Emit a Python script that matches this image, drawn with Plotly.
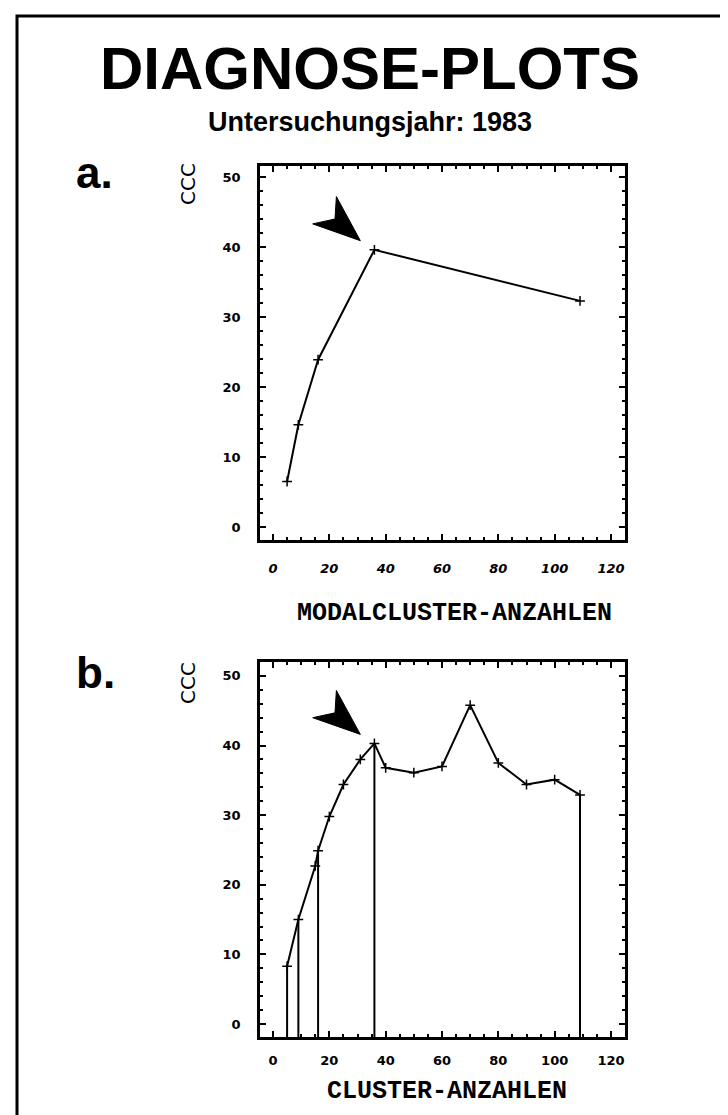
import plotly.graph_objects as go

# ---------------- data ----------------
# Panel a: modal cluster counts vs CCC
modal_x = [5, 9, 16, 36, 109]
modal_ccc = [6.5, 14.6, 23.9, 39.6, 32.3]

# Panel b: cluster counts vs CCC
cluster_x = [5, 9, 15, 16, 20, 25, 31, 36, 40, 50, 60, 70, 80, 90, 100, 109]
cluster_ccc = [8.3, 15.0, 22.7, 24.9, 29.8, 34.4, 38.0, 40.3, 36.8, 36.1, 37.0, 45.8, 37.5, 34.4, 35.1, 32.9]
drop_x = [5, 9, 16, 36, 109]          # modal solutions marked with drop lines
chosen_k = 36                          # solution marked by the arrow

x_ticks = [0, 20, 40, 60, 80, 100, 120]
y_ticks = [0, 10, 20, 30, 40, 50]

title_text = "DIAGNOSE-PLOTS"
subtitle_text = "Untersuchungsjahr: 1983"
xtitle_a = "MODALCLUSTER-ANZAHLEN"
xtitle_b = "CLUSTER-ANZAHLEN"
ytitle = "CCC"

# ---------------- layout helpers ----------------
W, H = 728, 1115
def px(x):
    return x / W
def py(y):
    return 1 - y / H

XR = [-4.62, 124.97]
YR_A = [-1.86, 51.57]
YR_B = [-1.87, 52.0]

fig = go.Figure()

line_style = dict(color="black", width=2)
marker_style = dict(symbol="cross-thin", size=7, line=dict(color="black", width=1.5), color="black")

fig.add_trace(go.Scatter(x=modal_x, y=modal_ccc, mode="lines+markers",
                         line=line_style, marker=marker_style,
                         xaxis="x", yaxis="y", showlegend=False))

fig.add_trace(go.Scatter(x=cluster_x, y=cluster_ccc, mode="lines+markers",
                         line=line_style, marker=marker_style,
                         xaxis="x2", yaxis="y2", showlegend=False))

# drop lines in panel b
dx, dy = [], []
for k in drop_x:
    v = cluster_ccc[cluster_x.index(k)]
    dx += [k, k, None]
    dy += [v, YR_B[0], None]
fig.add_trace(go.Scatter(x=dx, y=dy, mode="lines", line=dict(color="black", width=2),
                         xaxis="x2", yaxis="y2", showlegend=False))

# arrow (dart) pointing at the chosen solution
def dart(xc, yc, xref, yref):
    pts = [(-5.0, 1.3), (-21.9, 3.7), (-14.0, 4.4), (-13.5, 7.6)]
    p = [(xc + a, yc + b) for a, b in pts]
    path = "M {} {} L {} {} L {} {} L {} {} Z".format(*[c for pt in p for c in pt])
    return dict(type="path", path=path, xref=xref, yref=yref,
                fillcolor="black", line=dict(color="black", width=1))

shapes = [
    dart(chosen_k, modal_ccc[modal_x.index(chosen_k)], "x", "y"),
    dart(chosen_k, cluster_ccc[cluster_x.index(chosen_k)], "x2", "y2"),
    dict(type="rect", xref="paper", yref="paper", x0=px(9), x1=px(725), y0=py(1125), y1=py(8),
         line=dict(color="black", width=3)),
]

tickfont = dict(family="DejaVu Sans", size=13, color="black", weight="bold")

def xaxis_cfg(domain, standoff, italic):
    f = dict(tickfont)
    if italic:
        f["style"] = "italic"
    return dict(domain=domain, range=XR, tickvals=x_ticks, ticks="inside", ticklen=6,
                tickwidth=1.5, tickcolor="black", showline=True, linewidth=2.5,
                linecolor="black", mirror="allticks", showgrid=False, zeroline=False,
                tickfont=f, ticklabelstandoff=standoff,
                minor=dict(dtick=5, tick0=0, ticks="inside", ticklen=3, tickwidth=1.5,
                           tickcolor="black", showgrid=False))

def yaxis_cfg(domain, rng):
    return dict(domain=domain, range=rng, tickvals=y_ticks, ticks="inside", ticklen=6,
                tickwidth=1.5, tickcolor="black", showline=True, linewidth=2.5,
                linecolor="black", mirror="allticks", showgrid=False, zeroline=False,
                tickfont=tickfont, ticklabelstandoff=14,
                minor=dict(dtick=2, tick0=0, ticks="inside", ticklen=3, tickwidth=1.5,
                           tickcolor="black", showgrid=False))

annotations = [
    dict(text=title_text, x=px(362), y=py(60), xref="paper", yref="paper",
         xanchor="center", yanchor="middle", showarrow=False,
         font=dict(family="Liberation Sans, Arial", size=60,
                   color="black", weight="bold")),
    dict(text=subtitle_text, x=px(362), y=py(114), xref="paper", yref="paper",
         xanchor="center", yanchor="middle", showarrow=False,
         font=dict(family="Liberation Sans, Arial", size=27, color="black", weight="bold")),
    dict(text="a.", x=px(66), y=py(164), xref="paper", yref="paper",
         xanchor="left", yanchor="middle", showarrow=False,
         font=dict(family="Liberation Sans, Arial", size=44, color="black", weight="bold")),
    dict(text="b.", x=px(66), y=py(664), xref="paper", yref="paper",
         xanchor="left", yanchor="middle", showarrow=False,
         font=dict(family="Liberation Sans, Arial", size=44, color="black", weight="bold")),
    dict(text=ytitle, x=px(180), y=py(176), xref="paper", yref="paper", textangle=-90,
         xanchor="center", yanchor="middle", showarrow=False,
         font=dict(family="DejaVu Sans", size=20, color="black")),
    dict(text=ytitle, x=px(180), y=py(675), xref="paper", yref="paper", textangle=-90,
         xanchor="center", yanchor="middle", showarrow=False,
         font=dict(family="DejaVu Sans", size=20, color="black")),
    dict(text=xtitle_a, x=px(446), y=py(605), xref="paper", yref="paper",
         xanchor="center", yanchor="middle", showarrow=False,
         font=dict(family="Liberation Mono, Courier New, monospace", size=25,
                   color="black", weight="bold")),
    dict(text=xtitle_b, x=px(439), y=py(1083), xref="paper", yref="paper",
         xanchor="center", yanchor="middle", showarrow=False,
         font=dict(family="Liberation Mono, Courier New, monospace", size=25,
                   color="black", weight="bold")),
]

fig.update_layout(
    width=W, height=H, autosize=False,
    margin=dict(l=0, r=0, t=0, b=0),
    paper_bgcolor="white", plot_bgcolor="white",
    xaxis=xaxis_cfg([px(252), px(617)], 15, True),
    yaxis=yaxis_cfg([py(532), py(158)], YR_A),
    xaxis2=dict(xaxis_cfg([px(252), px(617)], 10, False), anchor="y2"),
    yaxis2=dict(yaxis_cfg([py(1029), py(654)], YR_B), anchor="x2"),
    shapes=shapes,
    annotations=annotations,
    showlegend=False,
)

fig.write_html("out.html")
